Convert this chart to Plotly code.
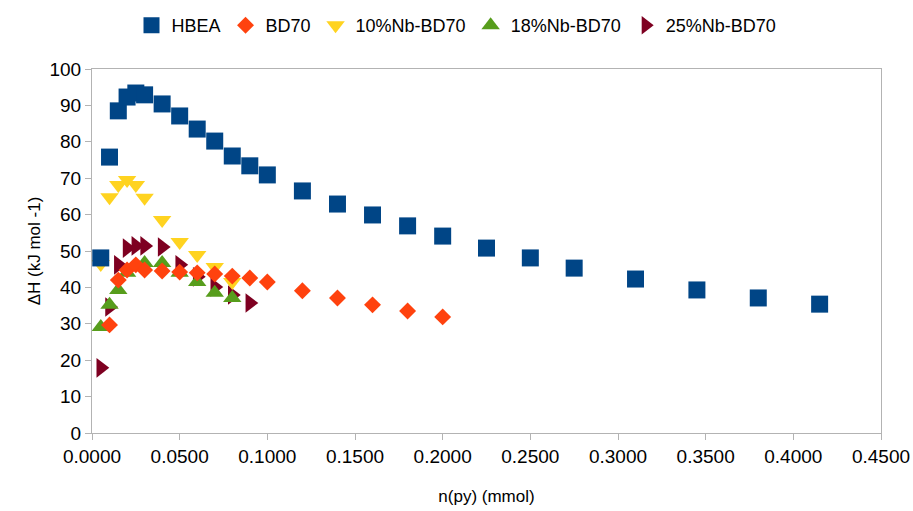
import plotly.graph_objects as go

# ---- data ----
hbea_x = [0.005, 0.010, 0.015, 0.020, 0.025, 0.030, 0.040, 0.050, 0.060, 0.070, 0.080, 0.090, 0.100,
          0.120, 0.140, 0.160, 0.180, 0.200, 0.225, 0.250, 0.275, 0.310, 0.345, 0.380, 0.415]
hbea_y = [48.1, 75.8, 88.5, 92.3, 93.4, 92.9, 90.4, 87.1, 83.5, 80.2, 76.1, 73.4, 70.9,
          66.5, 62.9, 59.9, 56.9, 54.1, 50.8, 48.1, 45.3, 42.3, 39.3, 37.1, 35.4]

bd70_x = [0.010, 0.015, 0.020, 0.025, 0.030, 0.040, 0.050, 0.060, 0.070, 0.080, 0.090, 0.100,
          0.120, 0.140, 0.160, 0.180, 0.200]
bd70_y = [29.7, 42.0, 44.8, 46.2, 44.8, 44.5, 44.2, 44.0, 43.7, 43.1, 42.6, 41.5,
          39.1, 37.1, 35.2, 33.5, 31.9]

nb10_x = [0.005, 0.010, 0.015, 0.020, 0.025, 0.030, 0.040, 0.050, 0.060, 0.070, 0.080]
nb10_y = [46.4, 64.8, 68.1, 69.5, 68.1, 64.6, 58.5, 52.5, 48.9, 45.6, 41.5]

nb18_x = [0.005, 0.010, 0.015, 0.020, 0.030, 0.040, 0.050, 0.060, 0.070, 0.080]
nb18_y = [29.1, 35.2, 39.3, 44.0, 46.7, 46.7, 44.0, 41.5, 38.5, 37.1]

nb25_x = [0.005, 0.010, 0.015, 0.020, 0.025, 0.030, 0.040, 0.050, 0.060, 0.070, 0.080, 0.090]
nb25_y = [17.9, 34.6, 46.2, 50.8, 51.4, 51.4, 51.1, 46.2, 42.9, 40.1, 37.9, 35.7]

y_ticks = list(range(0, 101, 10))
x_ticks = [0.0, 0.05, 0.10, 0.15, 0.20, 0.25, 0.30, 0.35, 0.40, 0.45]

FONT = "Liberation Sans, Arial, sans-serif"
GRID = "#b3b3b3"

fig = go.Figure()

# drawn bottom -> top: 25%, 18%, 10%, BD70, HBEA
series = [
    ("25%Nb-BD70", nb25_x, nb25_y, "#7e0021", "triangle-right", 17, 5),
    ("18%Nb-BD70", nb18_x, nb18_y, "#579d1c", "triangle-up", 16, 4),
    ("10%Nb-BD70", nb10_x, nb10_y, "#ffd320", "triangle-down", 16, 3),
    ("BD70", bd70_x, bd70_y, "#ff420e", "diamond", 13, 2),
    ("HBEA", hbea_x, hbea_y, "#004586", "square", 17, 1),
]
for name, xs, ys, col, sym, sz, rank in series:
    fig.add_trace(go.Scatter(
        x=xs, y=ys, mode="markers", name=name, legendrank=rank,
        marker=dict(color=col, symbol=sym, size=sz, line=dict(width=0)),
    ))

fig.update_layout(
    width=913, height=511,
    margin=dict(l=92, r=32, t=69, b=78),
    paper_bgcolor="white", plot_bgcolor="white",
    font=dict(family=FONT, size=18, color="#000000"),
    showlegend=True,
    legend=dict(
        orientation="h", xref="container", yref="container",
        x=0.5, xanchor="center", y=0.95, yanchor="middle",
        font=dict(size=18), itemwidth=30, traceorder="normal",
    ),
    xaxis=dict(
        range=[0, 0.45], tickvals=x_ticks, tickformat=".4f",
        showgrid=False, zeroline=False, automargin=False,
        showline=True, linecolor=GRID, linewidth=1, mirror=True,
        ticks="outside", ticklen=6, tickcolor=GRID,
        tickfont=dict(size=19),
        title=dict(text="n(py) (mmol)", font=dict(size=17), standoff=24),
    ),
    yaxis=dict(
        range=[0, 100], tickvals=y_ticks,
        showgrid=False, zeroline=False, automargin=False,
        showline=True, linecolor=GRID, linewidth=1, mirror=True,
        ticks="outside", ticklen=6, tickcolor=GRID,
        tickfont=dict(size=19),
        title=dict(text="ΔH (kJ mol -1)", font=dict(size=17), standoff=4),
    ),
)

fig.write_html("out.html")
